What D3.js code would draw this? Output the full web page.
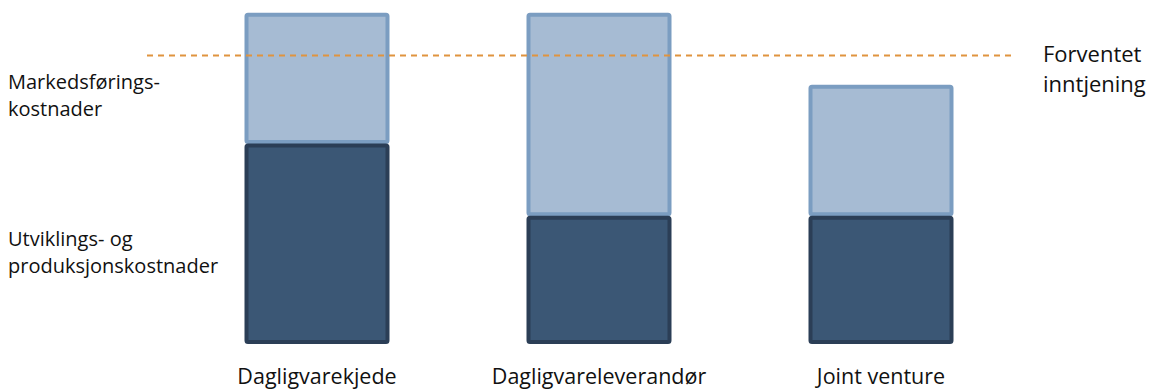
<!DOCTYPE html>
<html>
<head>
<meta charset="utf-8">
<script src="https://cdn.jsdelivr.net/npm/d3@7"></script>
<style>
  body { margin: 0; background: #fff; }
  text { font-family: "Open Sans", Lato, sans-serif; fill: #111; }
</style>
</head>
<body>
<div id="chart"></div>
<script>
const categories = ["Dagligvarekjede", "Dagligvareleverandør", "Joint venture"];
const productionCosts = [60, 38, 38];   // Utviklings- og produksjonskostnader
const marketingCosts = [40, 62, 40];    // Markedsføringskostnader
const expectedEarnings = 87.5;          // Forventet inntjening

const width = 1165, height = 389;

const svg = d3.select("#chart")
  .append("svg")
  .attr("width", width)
  .attr("height", height);

const x = d3.scaleBand()
  .domain(categories)
  .range([105.5, 1092.5])
  .padding(0.5);

const y = d3.scaleLinear()
  .domain([0, 100])
  .range([342, 14.7]);

const data = categories.map((c, i) => ({
  cat: c, prod: productionCosts[i], mark: marketingCosts[i]
}));

// light segment (marketing)
svg.selectAll(".mark")
  .data(data)
  .enter().append("rect")
  .attr("class", "mark")
  .attr("x", d => x(d.cat))
  .attr("width", x.bandwidth())
  .attr("y", d => y(d.prod + d.mark))
  .attr("height", d => y(d.prod) - y(d.prod + d.mark) - 3.5)
  .attr("rx", 1.5)
  .style("fill", "#a6bbd3")
  .style("stroke", "#7b9dc1")
  .style("stroke-width", 4);

// dark segment (production)
svg.selectAll(".prod")
  .data(data)
  .enter().append("rect")
  .attr("class", "prod")
  .attr("x", d => x(d.cat))
  .attr("width", x.bandwidth())
  .attr("y", d => y(d.prod))
  .attr("height", d => y(0) - y(d.prod))
  .attr("rx", 1.5)
  .style("fill", "#3b5775")
  .style("stroke", "#2b3e56")
  .style("stroke-width", 4);

// expected earnings line
svg.append("line")
  .attr("x1", 147)
  .attr("x2", 1012)
  .attr("y1", y(expectedEarnings))
  .attr("y2", y(expectedEarnings))
  .style("stroke", "#e0943f")
  .style("stroke-width", 2)
  .style("stroke-dasharray", "6,5");

["Forventet", "inntjening"].forEach((t, i) => {
  svg.append("text")
    .attr("x", 1043)
    .attr("y", 62 + i * 30)
    .style("font-size", "22px")
    .text(t);
});

// category labels
const xAxis = d3.axisBottom(x).tickSize(0).tickPadding(0);
const gx = svg.append("g")
  .attr("transform", "translate(0," + 384 + ")")
  .call(xAxis);
gx.select(".domain").remove();
gx.selectAll("text")
  .attr("y", 0)
  .attr("dy", 0)
  .style("font-family", "'Open Sans', sans-serif")
  .style("font-size", "21.5px")
  .style("fill", "#111");

// side labels
const sideLabels = [
  { lines: ["Markedsførings-", "kostnader"], y: 89 },
  { lines: ["Utviklings- og", "produksjonskostnader"], y: 246 }
];
sideLabels.forEach(l => {
  l.lines.forEach((t, i) => {
    svg.append("text")
      .attr("x", 8)
      .attr("y", l.y + i * 26.5)
      .style("font-size", "20px")
      .text(t);
  });
});
</script>
</body>
</html>
